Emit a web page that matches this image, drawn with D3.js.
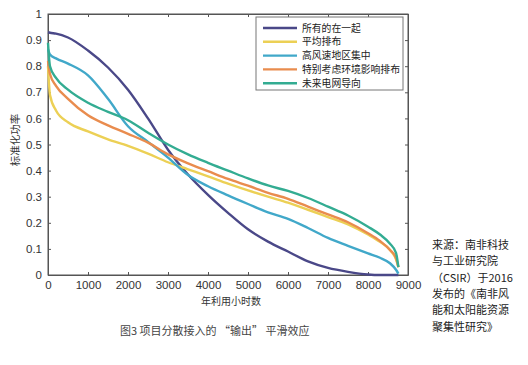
<!DOCTYPE html>
<html><head><meta charset="utf-8">
<script src="https://cdn.jsdelivr.net/npm/d3@7"></script>
<style>
html,body{margin:0;padding:0;background:#fff;}
svg{display:block;}
</style></head>
<body>
<script>
const hours = [0, 50, 200, 500, 1000, 1500, 2000, 2500, 3000, 3500, 4000, 4500, 5000, 5500, 6000, 6500, 7000, 7500, 8000, 8300, 8550, 8700, 8760];
const seriesNames = ["所有的在一起", "平均排布", "高风速地区集中", "特别考虑环境影响排布", "未来电网导向"];
const allTogether = [0.93, 0.928, 0.925, 0.91, 0.86, 0.795, 0.71, 0.60, 0.48, 0.385, 0.307, 0.238, 0.175, 0.128, 0.09, 0.052, 0.027, 0.012, 0.002, 0, 0, 0, 0];
const evenSpread = [0.80, 0.69, 0.63, 0.585, 0.55, 0.52, 0.495, 0.465, 0.432, 0.405, 0.378, 0.35, 0.324, 0.30, 0.277, 0.25, 0.222, 0.194, 0.155, 0.127, 0.096, 0.06, 0.03];
const highWind = [0.865, 0.845, 0.83, 0.81, 0.765, 0.675, 0.57, 0.51, 0.45, 0.383, 0.34, 0.305, 0.272, 0.24, 0.215, 0.18, 0.142, 0.112, 0.083, 0.066, 0.045, 0.02, 0.005];
const envAware = [0.82, 0.77, 0.725, 0.675, 0.612, 0.573, 0.541, 0.507, 0.462, 0.428, 0.398, 0.368, 0.342, 0.315, 0.292, 0.262, 0.232, 0.202, 0.16, 0.13, 0.096, 0.065, 0.03];
const gridLed = [0.89, 0.80, 0.755, 0.71, 0.66, 0.625, 0.593, 0.545, 0.50, 0.462, 0.43, 0.40, 0.37, 0.343, 0.322, 0.295, 0.262, 0.228, 0.185, 0.155, 0.12, 0.085, 0.03];
const seriesValues = [allTogether, evenSpread, highWind, envAware, gridLed];
const seriesColors = ["#4a4888", "#ecd055", "#41a8c9", "#e98c4e", "#33ac92"];
const xTicks = [0, 1000, 2000, 3000, 4000, 5000, 6000, 7000, 8000, 9000];
const yTicks = [0, 0.1, 0.2, 0.3, 0.4, 0.5, 0.6, 0.7, 0.8, 0.9, 1];
const xTitle = "年利用小时数";
const yTitle = "标准化功率";
const caption = "图3 项目分散接入的 \u201C输出\u201D 平滑效应";
const sourceLines = ["来源：南非科技", "与工业研究院", "（CSIR）于2016", "发布的《南非风", "能和太阳能资源", "聚集性研究》"];

const W = 528, H = 365;
const L = 48, R = 408, T = 14, B = 275;
const svg = d3.select("body").append("svg").attr("width", W).attr("height", H);
const x = d3.scaleLinear().domain([0, 9000]).range([L, R]);
const y = d3.scaleLinear().domain([0, 1]).range([B, T]);
const cjk = "'Noto Sans CJK SC', 'Noto Sans', sans-serif";
const lat = "'Liberation Sans', Arial, sans-serif";

// axes box
svg.append("rect").attr("x", L).attr("y", T).attr("width", R - L).attr("height", B - T)
  .attr("fill", "none").attr("stroke", "#555").attr("stroke-width", 1);

const gx = svg.append("g").attr("transform", `translate(0,${B})`)
  .call(d3.axisBottom(x).tickValues(xTicks).tickFormat(d3.format("d")).tickSizeInner(-3).tickSizeOuter(0).tickPadding(6));
const gxt = svg.append("g").attr("transform", `translate(0,${T})`)
  .call(d3.axisTop(x).tickValues(xTicks).tickFormat("").tickSizeInner(-3).tickSizeOuter(0));
const gy = svg.append("g").attr("transform", `translate(${L},0)`)
  .call(d3.axisLeft(y).tickValues(yTicks).tickFormat(d => d === 0 ? "0" : d === 1 ? "1" : d3.format(".1f")(d)).tickSizeInner(-3).tickSizeOuter(0).tickPadding(6));
const gyr = svg.append("g").attr("transform", `translate(${R},0)`)
  .call(d3.axisRight(y).tickValues(yTicks).tickFormat("").tickSizeInner(-3).tickSizeOuter(0));
[gx, gxt, gy, gyr].forEach(g => {
  g.select(".domain").attr("stroke", "#555");
  g.selectAll(".tick line").attr("stroke", "#555");
  g.selectAll("text").attr("fill", "#333").style("font-family", lat).style("font-size", "11.5px");
});

// lines
const line = d3.line().x((d, i) => x(hours[i])).y(d => y(d)).curve(d3.curveMonotoneX);
seriesValues.forEach((vals, k) => {
  svg.append("path").datum(vals).attr("d", line).attr("fill", "none")
    .attr("stroke", seriesColors[k]).attr("stroke-width", 2.4).attr("stroke-linejoin", "round");
});

// legend
const lg = svg.append("g");
lg.append("rect").attr("x", 256).attr("y", 17).attr("width", 147).attr("height", 73)
  .attr("fill", "#fff").attr("stroke", "#777").attr("stroke-width", 1);
seriesNames.forEach((n, k) => {
  const yy = 28 + k * 13.8;
  lg.append("line").attr("x1", 263).attr("x2", 297).attr("y1", yy).attr("y2", yy)
    .attr("stroke", seriesColors[k]).attr("stroke-width", 2.4);
  lg.append("text").attr("x", 302).attr("y", yy + 3.6).text(n)
    .style("font-family", cjk).style("font-size", "9.8px").attr("fill", "#222");
});

// titles
svg.append("text").attr("x", 231).attr("y", 305).attr("text-anchor", "middle").text(xTitle)
  .style("font-family", cjk).style("font-size", "10px").attr("fill", "#333");
svg.append("text").attr("transform", "translate(19,140) rotate(-90)").attr("text-anchor", "middle").text(yTitle)
  .style("font-family", cjk).style("font-size", "10.5px").attr("fill", "#333");
svg.append("text").attr("x", 120).attr("y", 335).text(caption)
  .style("font-family", cjk).style("font-size", "11px").attr("fill", "#444");

sourceLines.forEach((s, i) => {
  svg.append("text").attr("x", 432).attr("y", 249 + i * 16.3).text(s)
    .style("font-family", cjk).style("font-size", "11px").attr("fill", "#222");
});
</script>
</body></html>
